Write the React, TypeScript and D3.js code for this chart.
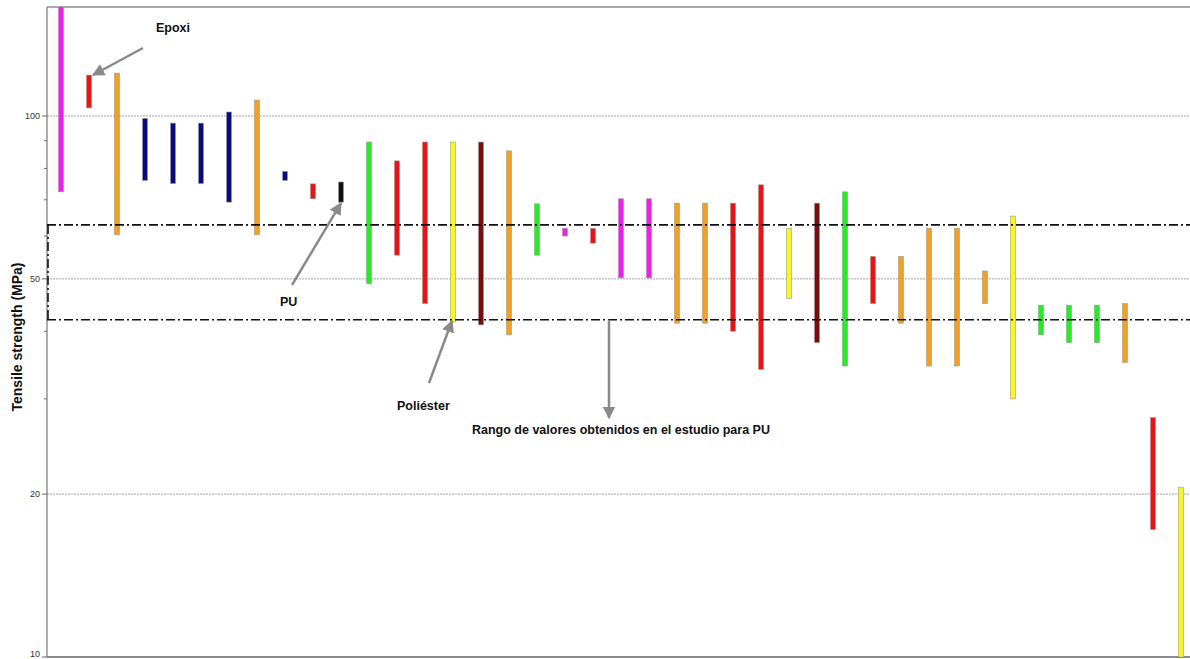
import React from "react";
import * as d3 from "d3";

// one entry per material range (left to right)
const materials = d3.range(1, 42).map((i) => `M${i}`);
const groups = [
  "m", "r", "o", "n", "n", "n", "n", "o", "n", "r",
  "pu", "g", "r", "r", "y", "d", "o", "g", "m", "r",
  "m", "m", "o", "o", "r", "r", "y", "d", "g", "r",
  "o", "o", "o", "o", "y", "g", "g", "g", "o", "r", "y",
];
const lowValues = [
  72.4, 103.5, 60.3, 76, 75, 75, 69.3, 60.3, 76, 70.3,
  69.3, 49, 55.3, 45, 41.6, 41.1, 39.4, 55.3, 60, 58.2,
  50.2, 50.2, 41.4, 41.4, 40, 34, 46, 38.1, 34.5, 45,
  41.4, 34.5, 34.5, 45, 30, 39.4, 38.1, 38.1, 35, 17.2, 10,
];
const highValues = [
  170, 119, 120, 99, 97, 97, 101.7, 107, 79, 74.9,
  75.5, 89.5, 82.6, 89.5, 89.5, 89.5, 86.2, 68.8, 62, 62,
  70.3, 70.3, 69, 69, 69, 74.6, 62, 69, 72.4, 55,
  55, 62, 62, 51.7, 65.3, 44.7, 44.7, 44.7, 45, 27.7, 20.6,
];
const majorTicks = [10, 20, 50, 100];
const minorTicks = [30, 40, 60, 70, 80, 90];
const puRange = [42, 62.9];

const groupColors: Record<string, string> = {
  m: "#f01cf0",
  r: "#f01010",
  o: "#f2a01e",
  n: "#0a0a80",
  pu: "#111111",
  g: "#22ee22",
  y: "#f8f820",
  d: "#7a0c0c",
};

const W = 1190;
const H = 659;
const left = 47;
const top = 7;
const bottom = 657;
const right = 1195;

const App = () => {
  const x = d3.scalePoint<string>().domain(materials).range([left, right]).padding(0.5);
  const y = d3.scaleLog().domain([10, 159]).range([bottom, top]);
  const dashDot = "9,3,2,3";
  const arrowGray = "#8a8a8a";

  return (
    <svg
      width={W}
      height={H}
      style={{ position: "absolute", left: 0, top: 0, background: "#fff" }}
      fontFamily="'Liberation Sans', Arial, sans-serif"
    >
      <defs>
        <clipPath id="plot">
          <rect x={left} y={top} width={W - left} height={bottom - top} />
        </clipPath>
        <marker id="arr" viewBox="0 0 10 10" refX="9" refY="5" markerWidth="5" markerHeight="5" orient="auto">
          <path d="M0,0 L10,5 L0,10 z" fill={arrowGray} />
        </marker>
      </defs>

      {/* grid */}
      {majorTicks.slice(1).map((t) => (
        <line key={t} x1={left} x2={W} y1={y(t)} y2={y(t)} stroke="#8c8c8c" strokeWidth={0.8} strokeDasharray="2,1" />
      ))}

      {/* frame */}
      <line x1={left} x2={W} y1={top} y2={top} stroke="#555" strokeWidth={1} />
      <line x1={left} x2={W} y1={bottom} y2={bottom} stroke="#666" strokeWidth={1.5} />
      <line x1={left} x2={left} y1={top} y2={bottom} stroke="#777" strokeWidth={1.2} />

      {/* y ticks */}
      {majorTicks.map((t) => (
        <g key={t} transform={`translate(${left},${y(t)})`}>
          <line x1={-5} x2={0} stroke="#666" />
          <text x={-7} dy={t === 10 ? "0" : "0.35em"} textAnchor="end" fontSize={9} fill="#333">
            {t}
          </text>
        </g>
      ))}
      {minorTicks.map((t) => (
        <line key={t} x1={left - 3} x2={left} y1={y(t)} y2={y(t)} stroke="#666" />
      ))}

      <text
        transform={`translate(22,${(y(20) + y(100)) / 2 + 32}) rotate(-90)`}
        textAnchor="middle"
        fontSize={14}
        fontWeight="bold"
        fill="#111"
      >
        Tensile strength (MPa)
      </text>

      {/* bars */}
      <g clipPath="url(#plot)">
        {materials.map((m, i) => (
          <rect
            key={m}
            x={(x(m) as number) - 2.5}
            y={y(highValues[i])}
            width={5}
            height={y(lowValues[i]) - y(highValues[i])}
            fill={groupColors[groups[i]]}
            stroke="#9a9a9a"
            strokeWidth={0.6}
          />
        ))}
      </g>

      {/* PU range */}
      {puRange.map((v) => (
        <line key={v} x1={left} x2={W} y1={y(v)} y2={y(v)} stroke="#111" strokeWidth={1.6} strokeDasharray={dashDot} />
      ))}
      <line x1={left + 1} x2={left + 1} y1={y(puRange[1])} y2={y(puRange[0])} stroke="#111" strokeWidth={1.6} strokeDasharray={dashDot} />

      {/* annotations */}
      <g stroke={arrowGray} strokeWidth={2.5} markerEnd="url(#arr)">
        <line x1={143} y1={48} x2={(x("M2") as number) + 4} y2={75} />
        <line x1={292} y1={285} x2={x("M11") as number} y2={y(lowValues[10]) + 1} />
        <line x1={429} y1={383} x2={(x("M15") as number) - 1} y2={y(puRange[0]) + 1} />
        <line x1={609} y1={y(puRange[0])} x2={609} y2={418} />
      </g>
      <g fontSize={12.5} fontWeight="bold" fill="#111">
        <text x={156} y={32}>Epoxi</text>
        <text x={280} y={306}>PU</text>
        <text x={397} y={410}>Poliéster</text>
        <text x={472} y={434}>Rango de valores obtenidos en el estudio para PU</text>
      </g>
    </svg>
  );
};

export default App;
